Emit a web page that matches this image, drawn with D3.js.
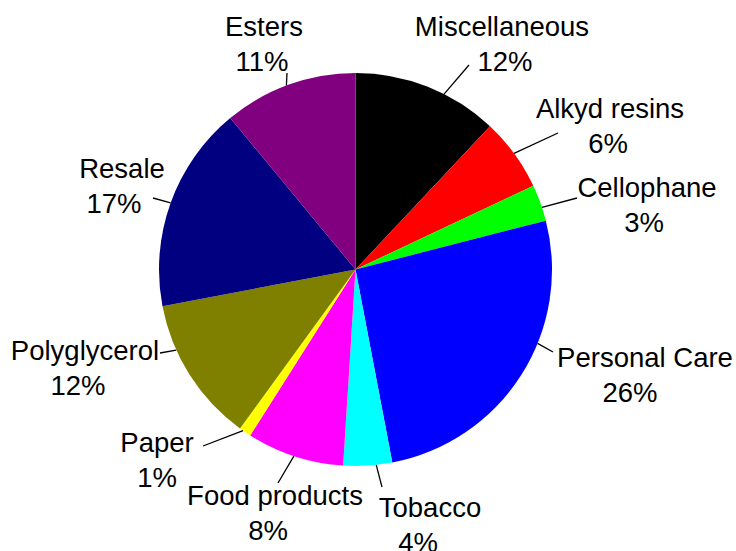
<!DOCTYPE html>
<html>
<head>
<meta charset="utf-8">
<script src="https://cdn.jsdelivr.net/npm/d3@7"></script>
<style>
  html, body { margin: 0; padding: 0; background: #fff; }
  svg { display: block; }
  text { font-family: "Liberation Sans", Arial, sans-serif; fill: #000; }
</style>
</head>
<body>
<svg id="chart" width="736" height="551"></svg>
<script>
// Market share by end use (percent), clockwise from 12 o'clock
const categories = ["Miscellaneous", "Alkyd resins", "Cellophane", "Personal Care", "Tobacco",
                    "Food products", "Paper", "Polyglycerol", "Resale", "Esters"];
const shares = [12, 6, 3, 26, 4, 8, 1, 12, 17, 11];
const sliceColors = ["#000000", "#ff0000", "#00ff00", "#0000ff", "#00ffff",
                     "#ff00ff", "#ffff00", "#808000", "#000080", "#800080"];

// Label layout: name centre x, percent centre x, first baseline y,
// leader outer end, and where along its slice (0..1) the leader meets the rim
const labelLayout = [
  { x: 502, px: 505, y: 36,  lx: 469, ly: 65,  t: 0.62 },
  { x: 610, px: 608, y: 118, lx: 558, ly: 133, t: 0.49 },
  { x: 647, px: 644, y: 197, lx: 577, ly: 198, t: 0.63 },
  { x: 645, px: 630, y: 367, lx: 553, ly: 352, t: 0.39 },
  { x: 430, px: 418, y: 517, lx: 382, ly: 487, t: 0.33 },
  { x: 275, px: 268, y: 505, lx: 278, ly: 483, t: 0.51 },
  { x: 157, px: 157, y: 452, lx: 203, ly: 446, t: 0.7 },
  { x: 85,  px: 78,  y: 360, lx: 160, ly: 353, t: 0.69 },
  { x: 122, px: 114, y: 178, lx: 153, ly: 198, t: 0.50 },
  { x: 264, px: 262, y: 36,  lx: 287, ly: 73,  t: 0.48 }
];

const cx = 355.5, cy = 269.5, radius = 196.5;
const fontSize = 27.5, lineGap = 34.5;

const svg = d3.select("#chart");
const g = svg.append("g").attr("transform", `translate(${cx},${cy})`);

const pie = d3.pie().sort(null).value(d => d.value).startAngle(0).endAngle(2 * Math.PI);
const arc = d3.arc().innerRadius(0).outerRadius(radius);

const data = categories.map((c, i) => ({ name: c, value: shares[i], color: sliceColors[i], layout: labelLayout[i] }));
const arcs = pie(data);

g.selectAll("path.slice")
  .data(arcs)
  .enter().append("path")
  .attr("class", "slice")
  .attr("d", arc)
  .attr("fill", d => d.data.color);

// Leader lines from the rim to each label
const rimAngle = d => d.startAngle + (d.endAngle - d.startAngle) * d.data.layout.t;
g.selectAll("line.leader")
  .data(arcs)
  .enter().append("line")
  .attr("class", "leader")
  .attr("x1", d => radius * Math.sin(rimAngle(d)))
  .attr("y1", d => -radius * Math.cos(rimAngle(d)))
  .attr("x2", d => d.data.layout.lx - cx)
  .attr("y2", d => d.data.layout.ly - cy)
  .attr("stroke", "#000")
  .attr("stroke-width", 1.3);

// Two-line labels: category name and percentage
const fmt = d3.format(".0f");
const labels = svg.selectAll("text.label")
  .data(arcs)
  .enter().append("text")
  .attr("class", "label")
  .attr("text-anchor", "middle")
  .style("font-size", fontSize + "px");

labels.append("tspan")
  .attr("x", d => d.data.layout.x)
  .attr("y", d => d.data.layout.y)
  .text(d => d.data.name);

labels.append("tspan")
  .attr("x", d => d.data.layout.px)
  .attr("y", d => d.data.layout.y + lineGap)
  .text(d => fmt(d.data.value) + "%");
</script>
</body>
</html>
